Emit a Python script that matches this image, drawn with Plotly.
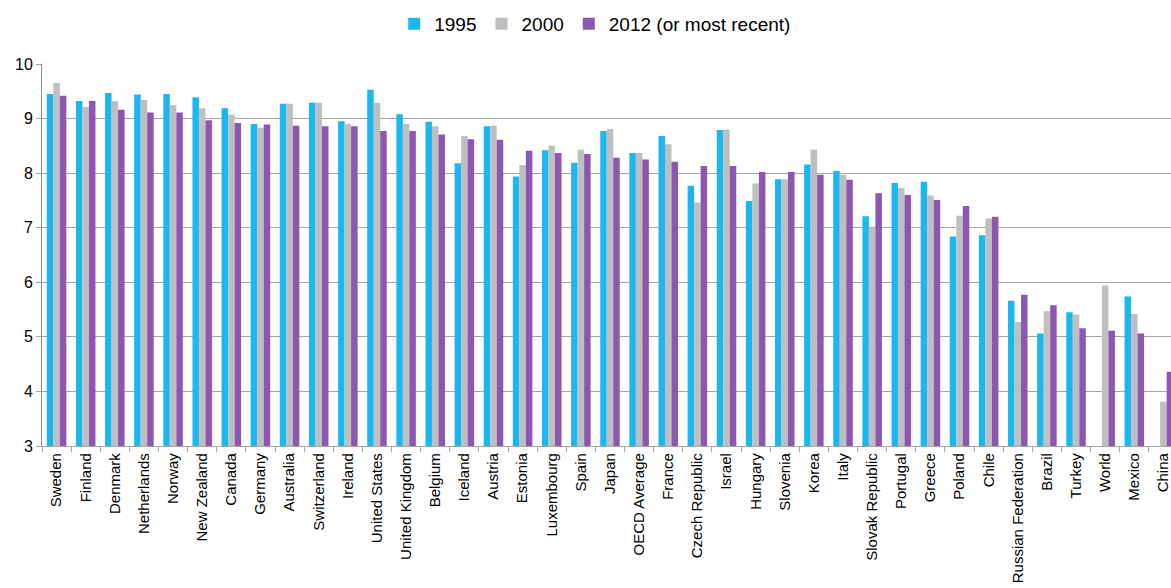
import plotly.graph_objects as go

countries = ["Sweden", "Finland", "Denmark", "Netherlands", "Norway", "New Zealand", "Canada",
             "Germany", "Australia", "Switzerland", "Ireland", "United States", "United Kingdom",
             "Belgium", "Iceland", "Austria", "Estonia", "Luxembourg", "Spain", "Japan",
             "OECD Average", "France", "Czech Republic", "Israel", "Hungary", "Slovenia", "Korea",
             "Italy", "Slovak Republic", "Portugal", "Greece", "Poland", "Chile",
             "Russian Federation", "Brazil", "Turkey", "World", "Mexico", "China"]

v1995 = [9.45, 9.32, 9.47, 9.44, 9.45, 9.39, 9.19, 8.90, 9.27, 9.29, 8.95, 9.53, 9.08, 8.94,
         8.18, 8.86, 7.94, 8.42, 8.19, 8.77, 8.37, 8.68, 7.77, 8.79, 7.49, 7.89, 8.16, 8.04,
         7.21, 7.82, 7.84, 6.84, 6.86, 5.66, 5.06, 5.45, None, 5.74, None]
v2000 = [9.65, 9.21, 9.32, 9.34, 9.25, 9.19, 9.07, 8.83, 9.27, 9.29, 8.90, 9.29, 8.90, 8.86,
         8.68, 8.87, 8.15, 8.50, 8.43, 8.81, 8.37, 8.53, 7.46, 8.80, 7.81, 7.89, 8.43, 7.97,
         7.02, 7.73, 7.59, 7.22, 7.17, 5.27, 5.47, 5.41, 5.94, 5.42, 3.81]
v2012 = [9.42, 9.32, 9.16, 9.11, 9.11, 8.97, 8.92, 8.89, 8.87, 8.86, 8.86, 8.77, 8.77, 8.71,
         8.62, 8.61, 8.41, 8.37, 8.35, 8.28, 8.25, 8.21, 8.13, 8.13, 8.02, 8.02, 7.97, 7.88,
         7.63, 7.60, 7.51, 7.40, 7.20, 5.77, 5.58, 5.16, 5.11, 5.06, 4.36]

series_names = ["1995", "2000", "2012 (or most recent)"]
series_colors = ["#1BB7F0", "#BFBFBF", "#8C57B2"]

fig = go.Figure()
for name, vals, col in zip(series_names, [v1995, v2000, v2012], series_colors):
    fig.add_trace(go.Bar(x=countries, y=vals, name=name, marker_color=col,
                         marker_line_width=0))

font_family = "Liberation Sans, Arial, sans-serif"
fig.update_layout(
    width=1171, height=588,
    margin=dict(l=42, r=0, t=64, b=142, autoexpand=False),
    plot_bgcolor="white", paper_bgcolor="white",
    barmode="group", bargap=0.33, bargroupgap=0,
    font=dict(family=font_family, color="#000000", size=15),
    legend=dict(orientation="h", x=0.49, xanchor="center", y=1.105, yanchor="middle",
                xref="paper", yref="paper",
                font=dict(size=19, family=font_family), itemwidth=30,
                traceorder="normal", tracegroupgap=0),
    showlegend=True,
)
fig.update_xaxes(
    type="category", range=[-0.5, 38.26], automargin=False,
    tickangle=-90, tickfont=dict(size=15, family=font_family),
    showline=True, linecolor="#A6A6A6", linewidth=1.3,
    ticks="outside", tickson="boundaries", ticklen=5, tickcolor="#A6A6A6",
    showgrid=False,
)
fig.update_yaxes(
    range=[3, 10], dtick=1, automargin=False,
    showgrid=True, gridcolor="#A6A6A6", gridwidth=1.3,
    showline=True, linecolor="#8C8C8C", linewidth=1,
    ticks="outside", ticklen=5, tickcolor="#A6A6A6",
    tickfont=dict(size=16, family=font_family),
    zeroline=False,
)

fig.write_html("out.html", config={"displayModeBar": False},
               post_script="document.body.style.margin='0';")
